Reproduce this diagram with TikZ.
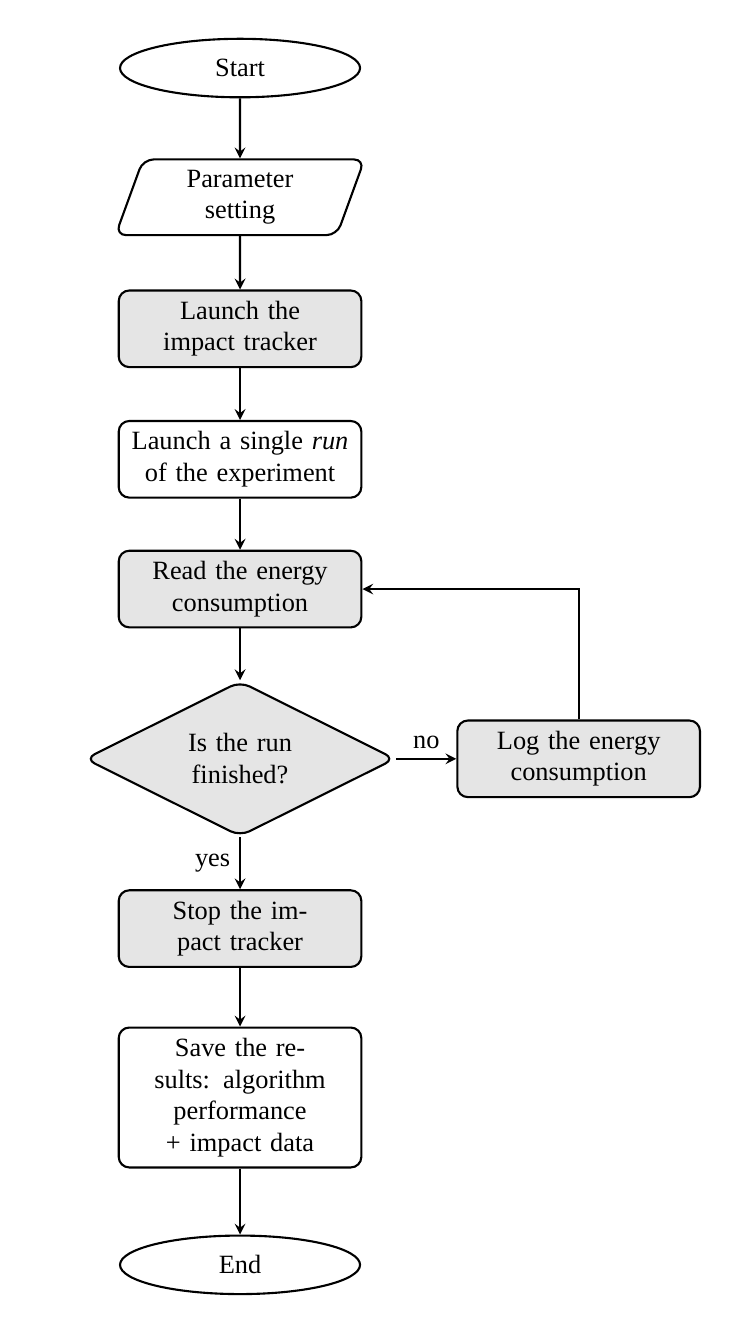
\documentclass[tikz,border=0pt]{standalone}
\usepackage{fontspec}
\setmainfont{Liberation Serif}
\usepackage{tikz}
\usetikzlibrary{positioning}
\usetikzlibrary{shapes.geometric,arrows}

\begin{document}
\begin{tikzpicture}[node distance=0.69cm,
  terminal/.style = {ellipse, draw, thick, minimum width=3.2cm, minimum height=0.78cm},
  io/.style = {trapezium, trapezium left angle=70, trapezium right angle=110,
    rounded corners, draw, thick, text width=2.35cm, inner ysep=4pt, align=center},
  process/.style = {rectangle, rounded corners, draw, thick,
    text width=3cm, inner ysep=4pt, align=center},
  decision/.style = {diamond, aspect=2, rounded corners, draw, thick,
    text width=2cm, inner ysep=4pt, align=center, fill=gray!20},
  shaded/.style = {fill=gray!20},
  arrow/.style = {thick, ->, >=stealth}
  ]
  \useasboundingbox (-3.2,0.907) rectangle (6.72,-16.93);
  \node (start) [terminal] {Start};
  \node (param) [io, below=0.8cm of start] {Parameter setting};
  \node (tracker) [process, shaded, below=0.71cm of param] {Launch the impact tracker};
  \node (run) [process, below=of tracker] {Launch a single \emph{run} of the experiment};
  \node (read) [process, shaded, below=0.68cm of run] {Read the energy consumption};
  \node (finished) [decision, below=of read] {Is the run finished?};
  \node (log) [process, shaded, right=0.8cm of finished] {Log the energy consumption};
  \node (stop) [process, shaded, below=of finished] {Stop the impact tracker};
  \node (save) [process, below=0.78cm of stop] {Save the results: algorithm performance + impact data};
  \node (end) [terminal, below=0.88cm of save] {End};

  \draw[arrow] (start) -- (param);
  \draw[arrow] (param) -- (tracker);
  \draw[arrow] (tracker) -- (run);
  \draw[arrow] (run) -- (read);
  \draw[arrow] (read) -- (finished);
  \draw[arrow] (finished) -- node[above] {no} (log);
  \draw[arrow] (log.north) |- (read.east);
  \draw[arrow] (finished) -- node[left] {yes} (stop);
  \draw[arrow] (stop) -- (save);
  \draw[arrow] (save) -- (end);
\end{tikzpicture}
\end{document}
